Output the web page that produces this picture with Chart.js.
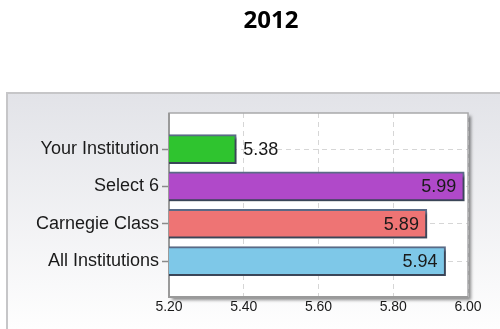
<!DOCTYPE html>
<html>
<head>
<meta charset="utf-8">
<script src="https://cdn.jsdelivr.net/npm/chart.js@4.4.1/dist/chart.umd.min.js"></script>
<style>
  html, body { margin: 0; padding: 0; background: #ffffff; }
  canvas { display: block; }
</style>
</head>
<body>
<canvas id="c" width="500" height="329"></canvas>
<script>
// Survey mean scores, 2012
const chartTitle = '2012';
const categories = ['Your Institution', 'Select 6', 'Carnegie Class', 'All Institutions'];
const values = [5.38, 5.99, 5.89, 5.94];
const xTickValues = [5.20, 5.40, 5.60, 5.80, 6.00];

const barColors = ['#2fc42f', '#b049c9', '#ee7474', '#7ec8e8'];
const FONT = '"Liberation Sans", Arial, sans-serif';

// Panel background, title and white plot box drawn underneath the chart
const framePlugin = {
  id: 'frame',
  beforeDraw(chart) {
    const { ctx, chartArea: a, width, height } = chart;
    ctx.save();
    ctx.fillStyle = '#ffffff';
    ctx.fillRect(0, 0, width, height);

    // gradient panel
    const g = ctx.createLinearGradient(0, 92, 0, height);
    g.addColorStop(0, '#e2e3e8');
    g.addColorStop(1, '#fefefe');
    ctx.fillStyle = g;
    ctx.fillRect(6, 92, width - 6, height - 92);
    ctx.strokeStyle = '#c6c6c8';
    ctx.lineWidth = 2;
    ctx.beginPath();
    ctx.moveTo(7, height);
    ctx.lineTo(7, 93);
    ctx.lineTo(width, 93);
    ctx.stroke();

    // title
    ctx.fillStyle = '#000000';
    ctx.font = 'bold 24px "Open Sans", "Liberation Sans", Arial, sans-serif';
    ctx.textAlign = 'center';
    ctx.textBaseline = 'middle';
    ctx.fillText(chartTitle, 271, 21);

    // plot box with drop shadow
    ctx.shadowColor = 'rgba(0,0,0,0.45)';
    ctx.shadowOffsetX = 3;
    ctx.shadowOffsetY = 3;
    ctx.shadowBlur = 3;
    ctx.fillStyle = '#ffffff';
    ctx.fillRect(a.left, a.top, a.right - a.left, a.bottom - a.top);
    ctx.restore();
  },
  beforeDatasetsDraw(chart) {
    const { ctx, chartArea: a } = chart;
    ctx.save();
    ctx.strokeStyle = '#a9a9ab';
    ctx.lineWidth = 1.5;
    ctx.strokeRect(a.left, a.top, a.right - a.left, a.bottom - a.top);
    ctx.strokeStyle = '#9a9a9a';
    ctx.lineWidth = 2;
    ctx.beginPath();
    ctx.moveTo(a.left, a.top);
    ctx.lineTo(a.left, a.bottom);
    ctx.lineTo(a.right, a.bottom);
    ctx.stroke();
    // bar shadows
    ctx.shadowColor = 'rgba(0,0,0,0.35)';
    ctx.shadowOffsetX = 3;
    ctx.shadowOffsetY = 3;
    ctx.shadowBlur = 2;
  },
  afterDatasetsDraw(chart) {
    const { ctx, chartArea: a } = chart;
    ctx.restore();
    // value labels: inside the end of long bars, just past the end of short ones
    ctx.save();
    ctx.font = '18px ' + FONT;
    ctx.fillStyle = '#1a1a1a';
    ctx.textBaseline = 'middle';
    const meta = chart.getDatasetMeta(0);
    meta.data.forEach((bar, i) => {
      const txt = values[i].toFixed(2);
      const w = ctx.measureText(txt).width;
      const len = bar.x - a.left;
      if (len > w * 2.5) {
        ctx.textAlign = 'right';
        ctx.fillText(txt, bar.x - 8, bar.y + 1);
      } else {
        ctx.textAlign = 'left';
        ctx.fillText(txt, bar.x + 7, bar.y + 1);
      }
    });
    ctx.restore();
  }
};

new Chart(document.getElementById('c'), {
  type: 'bar',
  data: {
    datasets: [{
      data: values.map((v, i) => ({ x: v, y: i })),
      backgroundColor: barColors,
      borderColor: '#5a6a86',
      borderWidth: 2,
      borderSkipped: false,
      barThickness: 29
    }]
  },
  options: {
    indexAxis: 'y',
    responsive: false,
    animation: false,
    devicePixelRatio: 1,
    layout: { padding: { left: 0, top: 113, right: 32, bottom: 12 } },
    plugins: {
      legend: { display: false },
      tooltip: { enabled: false },
      title: { display: false }
    },
    scales: {
      x: {
        type: 'linear',
        min: 5.2,
        max: 6.0,
        offset: false,
        afterBuildTicks: s => { s.ticks = xTickValues.map(v => ({ value: v })); },
        afterFit: s => { s.height = 20; },
        ticks: {
          callback: v => Number(v).toFixed(2),
          font: { family: FONT, size: 14 },
          color: '#1a1a1a',
          padding: 2,
          maxRotation: 0,
          autoSkip: false
        },
        grid: {
          color: '#d6d6d6',
          lineWidth: 1,
          offset: false,
          drawTicks: false
        },
        border: { display: false, dash: [5, 4] }
      },
      y: {
        type: 'linear',
        reverse: true,
        offset: false,
        min: -0.965,
        max: 3.96,
        afterBuildTicks: s => { s.ticks = categories.map((c, i) => ({ value: i })); },
        afterFit: s => { s.width = 169; },
        ticks: {
          callback: v => categories[v],
          font: { family: FONT, size: 18 },
          color: '#1a1a1a',
          padding: 3,
          autoSkip: false
        },
        grid: {
          color: '#d6d6d6',
          lineWidth: 1,
          offset: false,
          drawTicks: true,
          tickLength: 7,
          tickColor: '#8a8a8a',
          tickWidth: 1.5,
          tickBorderDash: []
        },
        border: { display: false, dash: [5, 4] }
      }
    }
  },
  plugins: [framePlugin]
});
</script>
</body>
</html>
